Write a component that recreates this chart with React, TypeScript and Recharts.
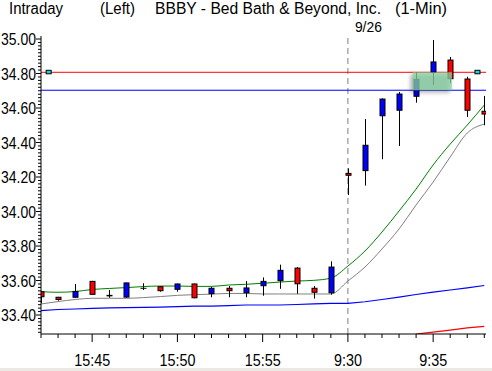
import React from 'react';
import { ComposedChart, Bar, Line, XAxis, YAxis, ReferenceLine, ReferenceArea, ReferenceDot } from 'recharts';

// minute labels, 15:42 .. 15:59 then next session 9:30 .. 9:38
const times = [
  '15:42', '15:43', '15:44', '15:45', '15:46', '15:47', '15:48', '15:49', '15:50',
  '15:51', '15:52', '15:53', '15:54', '15:55', '15:56', '15:57', '15:58', '15:59',
  '9:30', '9:31', '9:32', '9:33', '9:34', '9:35', '9:36', '9:37', '9:38',
];
const labeledTimes = ['15:45', '15:50', '15:55', '9:30', '9:35'];

const openVals = [
  33.535, 33.503, 33.503, 33.595, 33.511, 33.504, 33.555, 33.564, 33.549,
  33.58, 33.524, 33.555, 33.529, 33.57, 33.599, 33.672, 33.555, 33.529,
  34.221, 34.237, 34.555, 34.587, 34.668, 34.807, 34.878, 34.768, 34.581,
];
const highVals = [
  33.54, 33.505, 33.58, 33.598, 33.545, 33.588, 33.584, 33.566, 33.582,
  33.582, 33.564, 33.568, 33.597, 33.618, 33.692, 33.678, 33.568, 33.711,
  34.25, 34.536, 34.655, 34.693, 34.805, 34.994, 34.896, 34.781, 34.67,
];
const lowVals = [
  33.47, 33.483, 33.5, 33.518, 33.5, 33.5, 33.545, 33.535, 33.535,
  33.497, 33.503, 33.503, 33.503, 33.512, 33.552, 33.523, 33.495, 33.518,
  34.096, 34.15, 34.303, 34.38, 34.631, 34.733, 34.743, 34.548, 34.5,
];
const closeVals = [
  33.506, 33.49, 33.537, 33.52, 33.514, 33.586, 33.555, 33.541, 33.58,
  33.5, 33.555, 33.541, 33.557, 33.595, 33.659, 33.581, 33.532, 33.678,
  34.21, 34.384, 34.652, 34.681, 34.766, 34.867, 34.77, 34.587, 34.565,
];

// overlay averages
const greenAvg = [
  33.535, 33.532, 33.536, 33.548, 33.554, 33.559, 33.565, 33.568, 33.568,
  33.566, 33.566, 33.574, 33.578, 33.584, 33.591, 33.597, 33.601, 33.614,
  33.684, 33.771, 33.881, 34.003, 34.13, 34.27, 34.391, 34.501, 34.617,
];
const grayAvg = [
  33.464, 33.478, 33.49, 33.497, 33.497, 33.497, 33.501, 33.507, 33.514,
  33.518, 33.521, 33.525, 33.525, 33.522, 33.522, 33.522, 33.522, 33.522,
  33.597, 33.678, 33.783, 33.899, 34.038, 34.171, 34.316, 34.455, 34.507,
];
const blueAvg = [
  33.426, 33.432, 33.435, 33.439, 33.441, 33.443, 33.444, 33.446, 33.449,
  33.452, 33.452, 33.455, 33.458, 33.458, 33.458, 33.461, 33.465, 33.467,
  33.468, 33.477, 33.49, 33.504, 33.519, 33.533, 33.545, 33.557, 33.571,
];
const redAvg = [
  null, null, null, null, null, null, null, null, null,
  null, null, null, null, null, null, null, null, null,
  null, null, null, null, 33.29, 33.301, 33.313, 33.325, 33.334,
];

const priceTicks = ['33.40', '33.60', '33.80', '34.00', '34.20', '34.40', '34.60', '34.80', '35.00'];
const upperLevel = 34.807;
const lowerLevel = 34.703;

const rows = times.map((t, i) => ({
  idx: i,
  time: t,
  open: openVals[i],
  close: closeVals[i],
  range: [lowVals[i], highVals[i]],
  green: greenAvg[i],
  gray: grayAvg[i],
  blue: blueAvg[i],
  red: redAvg[i],
}));

// minor ticks every 0.02 between the labelled ones
const yTicks: number[] = [];
for (let k = 0; k <= 85; k++) yTicks.push(Math.round((33.3 + k * 0.02) * 100) / 100);

const fontStack = '"Liberation Sans", Arial, sans-serif';

const Candle = (props: any) => {
  const { x, y, width, height, payload } = props;
  if (height == null || !payload) return null;
  const [lo, hi] = payload.range;
  const toY = (v: number) => y + ((hi - v) / (hi - lo)) * height;
  const cx = Math.round(x + width / 2) + 0.5;
  const top = toY(Math.max(payload.open, payload.close));
  const bottom = toY(Math.min(payload.open, payload.close));
  const fill = payload.close < payload.open ? '#ff0000' : '#0000ff';
  return (
    <g>
      <line x1={cx} x2={cx} y1={y} y2={y + height} stroke="#000" strokeWidth={1} />
      {bottom - top < 0.5 ? (
        <line x1={cx - 3} x2={cx + 3} y1={top} y2={top} stroke="#000" strokeWidth={1} />
      ) : (
        <rect x={cx - 2.5} y={top} width={5} height={bottom - top} fill={fill} stroke="#000" strokeWidth={1} />
      )}
    </g>
  );
};

const YTick = (props: any) => {
  const { x, y, payload } = props;
  const v = payload.value;
  const label = priceTicks.find((p) => Math.abs(parseFloat(p) - v) < 1e-6);
  return (
    <g>
      <line x1={x - (label ? 5 : 3)} x2={x} y1={y} y2={y} stroke="#000" strokeWidth={1} />
      {label && (
        <text x={x - 5} y={y + 6} textAnchor="end" fontSize={17} fontFamily={fontStack} fill="#000"
          textLength={35} lengthAdjust="spacingAndGlyphs">
          {label}
        </text>
      )}
    </g>
  );
};

const XTick = (props: any) => {
  const { x, y, payload } = props;
  const t = times[payload.value];
  const major = labeledTimes.includes(t);
  return (
    <g>
      <line x1={x} x2={x} y1={y} y2={y + (major ? 8 : 4)} stroke="#000" strokeWidth={1} />
      {major && (
        <text x={x} y={y + 32} textAnchor="middle" fontSize={17} fontFamily={fontStack} fill="#000"
          textLength={t.length > 4 ? 36 : 28} lengthAdjust="spacingAndGlyphs">
          {t}
        </text>
      )}
    </g>
  );
};

const Marker = (props: any) => {
  const { cx, cy } = props;
  return <rect x={cx - 2.5} y={cy - 2} width={5} height={3.5} fill="#00e0e0" stroke="#000" strokeWidth={1} />;
};

const DateLabel = (props: any) => {
  const { viewBox } = props;
  return (
    <text x={viewBox.x + 7} y={32} fontSize={15} fontFamily={fontStack} fill="#000"
      textLength={27} lengthAdjust="spacingAndGlyphs">
      9/26
    </text>
  );
};

const titleParts = [
  { text: 'Intraday', x: 9, w: 54 },
  { text: '(Left)', x: 100, w: 35 },
  { text: 'BBBY - Bed Bath & Beyond, Inc.', x: 155, w: 226 },
  { text: '(1-Min)', x: 395, w: 52 },
];

export default function App() {
  return (
    <div style={{ position: 'absolute', left: 0, top: 0, width: 492, height: 371, background: '#fff' }}>
      <ComposedChart width={492} height={371} data={rows} margin={{ top: 36, right: 6, bottom: 0, left: 0 }}>
        <XAxis
          dataKey="idx"
          type="number"
          domain={[0, 26.1]}
          ticks={rows.map((r) => r.idx)}
          interval={0}
          allowDataOverflow
          tick={<XTick />}
          tickLine={false}
          tickSize={0}
          tickMargin={0}
          height={37}
          axisLine={{ stroke: '#000' }}
        />
        <YAxis
          type="number"
          domain={[33.29, 35.0174]}
          ticks={yTicks}
          interval={0}
          allowDataOverflow
          tick={<YTick />}
          tickLine={false}
          tickSize={0}
          tickMargin={0}
          width={41}
          axisLine={{ stroke: '#000' }}
        />
        <ReferenceLine x={18} stroke="#808080" strokeDasharray="6 4" label={<DateLabel />} />
        <ReferenceLine y={upperLevel} stroke="#ff0000" strokeWidth={1} />
        <ReferenceLine y={lowerLevel} stroke="#0000ff" strokeWidth={1} />
        <Line dataKey="blue" stroke="#0000ff" strokeWidth={1.2} dot={false} isAnimationActive={false} />
        <Line dataKey="red" stroke="#ff0000" strokeWidth={1.2} dot={false} isAnimationActive={false} />
        <Line type="monotone" dataKey="gray" stroke="#808080" strokeWidth={1} dot={false} isAnimationActive={false} />
        <Line type="monotone" dataKey="green" stroke="#008000" strokeWidth={1} dot={false} isAnimationActive={false} />
        <Bar dataKey="range" barSize={5} shape={<Candle />} isAnimationActive={false} zIndex={450} />
        <ReferenceArea
          x1={21.8}
          x2={24.1}
          y1={lowerLevel}
          y2={upperLevel}
          fill="#8ad5a6"
          fillOpacity={0.75}
          stroke="none"
          zIndex={600}
          style={{ filter: 'drop-shadow(-2px 2px 2px rgba(0,0,0,0.45))' }}
        />
        <ReferenceDot x={0.45} y={upperLevel} r={3} shape={<Marker />} />
        <ReferenceDot x={25.6} y={upperLevel} r={3} shape={<Marker />} />
      </ComposedChart>
      <svg width={492} height={32} style={{ position: 'absolute', left: 0, top: 0, pointerEvents: 'none' }}>
        {titleParts.map((p) => (
          <text key={p.text} x={p.x} y={14} fontSize={16} fontFamily={fontStack} fill="#000"
            textLength={p.w} lengthAdjust="spacingAndGlyphs">
            {p.text}
          </text>
        ))}
      </svg>
      <div style={{ position: 'absolute', left: 0, top: 368, width: 492, height: 3, background: '#ece9e4' }} />
    </div>
  );
}
